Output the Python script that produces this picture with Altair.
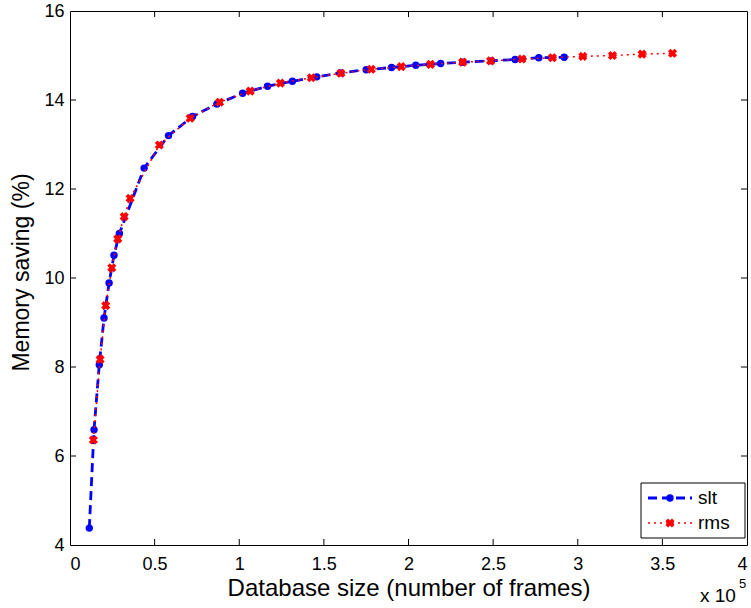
import altair as alt
import pandas as pd

# ---------------- data ----------------
series_names = ["slt", "rms"]

slt_x = [0.114, 0.142, 0.173, 0.201, 0.231, 0.260, 0.292, 0.438, 0.582, 0.724,
         0.868, 1.020, 1.167, 1.314, 1.458, 1.600, 1.750, 1.900, 2.043, 2.190,
         2.320, 2.490, 2.630, 2.770, 2.920]
slt_y = [4.38, 6.59, 8.05, 9.10, 9.89, 10.51, 11.00, 12.47, 13.20, 13.63,
         13.91, 14.15, 14.31, 14.42, 14.52, 14.61, 14.68, 14.73, 14.78, 14.82,
         14.85, 14.88, 14.91, 14.95, 14.96]

rms_x = [0.138, 0.178, 0.211, 0.247, 0.282, 0.320, 0.355, 0.528, 0.710, 0.884,
         1.065, 1.243, 1.426, 1.600, 1.780, 1.957, 2.130, 2.320, 2.485, 2.670,
         2.850, 3.030, 3.205, 3.380, 3.560]
rms_y = [6.36, 8.17, 9.38, 10.23, 10.88, 11.38, 11.79, 12.99, 13.59, 13.95,
         14.20, 14.38, 14.50, 14.60, 14.69, 14.75, 14.80, 14.85, 14.88, 14.92,
         14.95, 14.98, 15.00, 15.03, 15.05]

x_ticks = [0, 0.5, 1, 1.5, 2, 2.5, 3, 3.5, 4]
y_ticks = [4, 6, 8, 10, 12, 14, 16]
x_title = "Database size (number of frames)"
y_title = "Memory saving (%)"
exponent_base = "x 10"
exponent_power = "5"

# ---------------- layout / style ----------------
W, H = 677, 534
FONT = "Liberation Sans"
BLUE = "#0000ff"
RED = "#ff0000"
TICK = 6
CIRCLE_SIZE = 55
CROSS_SIZE = 85

slt_df = pd.DataFrame({"x": slt_x, "y": slt_y})
rms_df = pd.DataFrame({"x": rms_x, "y": rms_y})
one = alt.Data(values=[{"k": 0}])

xs = alt.Scale(domain=[x_ticks[0], x_ticks[-1]], nice=False, zero=False)
ys = alt.Scale(domain=[y_ticks[0], y_ticks[-1]], nice=False, zero=False)

x_axis = alt.Axis(values=x_ticks, format="~g", title=x_title, grid=False,
                  domain=False, ticks=False, tickSize=0, labelPadding=10,
                  labelFont=FONT, labelFontSize=18, labelColor="black",
                  titleFont=FONT, titleFontSize=24, titleFontWeight="normal",
                  titleColor="black", titleY=50, titleBaseline="alphabetic")
y_axis = alt.Axis(values=y_ticks, title=y_title, grid=False,
                  domain=False, ticks=False, tickSize=0, labelPadding=6,
                  labelFont=FONT, labelFontSize=18, labelColor="black",
                  titleFont=FONT, titleFontSize=23, titleFontWeight="normal",
                  titleColor="black", titleX=-42, titleY=261,
                  titleBaseline="alphabetic", titleAlign="center", titleAngle=270)

X = alt.X("x:Q", scale=xs, axis=x_axis)
Y = alt.Y("y:Q", scale=ys, axis=y_axis)

# data layers
slt_line = alt.Chart(slt_df).mark_line(color=BLUE, strokeWidth=2.8,
                                       strokeDash=[9, 5]).encode(x=X, y=Y)
slt_pts = alt.Chart(slt_df).mark_point(shape="circle", filled=True, size=CIRCLE_SIZE,
                                       color=BLUE, opacity=1).encode(x=X, y=Y)
rms_line = alt.Chart(rms_df).mark_line(color=RED, strokeWidth=1.5,
                                       strokeDash=[2, 4]).encode(x=X, y=Y)
rms_pts = alt.Chart(rms_df).mark_point(shape="cross", angle=45, filled=True,
                                       size=CROSS_SIZE, color=RED,
                                       opacity=1).encode(x=X, y=Y)

# inward ticks (MATLAB style) on all four sides
inner_x = pd.DataFrame({"x": x_ticks[1:-1]})
inner_y = pd.DataFrame({"y": y_ticks[1:-1]})
tick_bottom = alt.Chart(inner_x).mark_rule(color="black", strokeWidth=1).encode(
    x=X, y=alt.value(H), y2=alt.value(H - TICK))
tick_top = alt.Chart(inner_x).mark_rule(color="black", strokeWidth=1).encode(
    x=X, y=alt.value(0), y2=alt.value(TICK))
tick_left = alt.Chart(inner_y).mark_rule(color="black", strokeWidth=1).encode(
    y=Y, x=alt.value(0), x2=alt.value(TICK))
tick_right = alt.Chart(inner_y).mark_rule(color="black", strokeWidth=1).encode(
    y=Y, x=alt.value(W), x2=alt.value(W - TICK))

# exponent label
exp_base = alt.Chart(one).mark_text(text=exponent_base, font=FONT, fontSize=19,
                                    align="left", baseline="alphabetic",
                                    color="black").encode(
    x=alt.value(630), y=alt.value(591))
exp_pow = alt.Chart(one).mark_text(text=exponent_power, font=FONT, fontSize=13,
                                   align="left", baseline="alphabetic",
                                   color="black").encode(
    x=alt.value(669), y=alt.value(577))

# legend (box bottom-right)
LX0, LX1, LY0, LY1 = 571, 675, 472, 527
leg_box = alt.Chart(one).mark_rect(fill="white", stroke="black",
                                   strokeWidth=1).encode(
    x=alt.value(LX0), x2=alt.value(LX1), y=alt.value(LY0), y2=alt.value(LY1))
ROW1, ROW2 = 487, 512
leg_l1 = alt.Chart(one).mark_rule(color=BLUE, strokeWidth=2.8,
                                  strokeDash=[9, 5]).encode(
    x=alt.value(578), x2=alt.value(622), y=alt.value(ROW1))
leg_p1 = alt.Chart(one).mark_point(shape="circle", filled=True, size=CIRCLE_SIZE,
                                   color=BLUE, opacity=1).encode(
    x=alt.value(600), y=alt.value(ROW1))
leg_l2 = alt.Chart(one).mark_rule(color=RED, strokeWidth=1.5,
                                  strokeDash=[2, 4]).encode(
    x=alt.value(578), x2=alt.value(622), y=alt.value(ROW2))
leg_p2 = alt.Chart(one).mark_point(shape="cross", angle=45, filled=True,
                                   size=CROSS_SIZE, color=RED, opacity=1).encode(
    x=alt.value(600), y=alt.value(ROW2))
leg_t1 = alt.Chart(one).mark_text(text=series_names[0], font=FONT, fontSize=19,
                                  align="left", baseline="middle",
                                  color="black").encode(
    x=alt.value(628), y=alt.value(ROW1))
leg_t2 = alt.Chart(one).mark_text(text=series_names[1], font=FONT, fontSize=19,
                                  align="left", baseline="middle",
                                  color="black").encode(
    x=alt.value(628), y=alt.value(ROW2))

chart = alt.layer(
    slt_line, slt_pts, rms_line, rms_pts,
    tick_bottom, tick_top, tick_left, tick_right,
    exp_base, exp_pow,
    leg_box, leg_l1, leg_p1, leg_l2, leg_p2, leg_t1, leg_t2,
).properties(
    width=W, height=H,
    autosize=alt.AutoSizeParams(type="none"),
    padding={"left": 70, "top": 11, "right": 4, "bottom": 63},
    background="white",
).configure_view(stroke="black", strokeWidth=1)

chart.save("out.html", embed_options={"renderer": "svg", "actions": False})
